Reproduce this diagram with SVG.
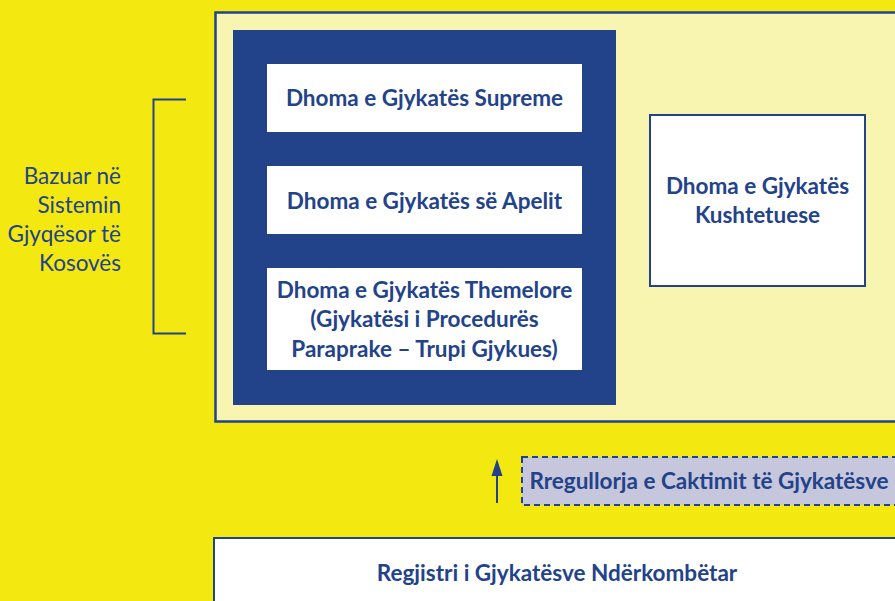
<svg xmlns="http://www.w3.org/2000/svg" width="895" height="601" viewBox="0 0 895 601">
<defs>
<style>
.t{font-family:Lato,"Open Sans","Liberation Sans",sans-serif;fill:#22438a;font-weight:bold;font-size:22.5px;text-anchor:middle}
.l{font-family:Lato,"Open Sans","Liberation Sans",sans-serif;fill:#22438a;font-size:22.5px;text-anchor:end}
.w{fill:#ffffff}
</style>
</defs>
<rect width="895" height="601" fill="#f3e80f"/>
<g id="outer">
<rect x="215.5" y="12.5" width="690" height="409" fill="#f7f5b0" stroke="#22438a" stroke-width="2.5"/>
</g>
<g id="group-inner">
<rect x="233" y="30" width="383" height="375" fill="#22438a"/>
</g>
<g id="supreme">
<rect class="w" x="267" y="64" width="315" height="68"/>
<text class="t" x="424.5" y="106">Dhoma e Gjykatës Supreme</text>
</g>
<g id="apelit">
<rect class="w" x="267" y="166" width="315" height="68"/>
<text class="t" x="424.5" y="209">Dhoma e Gjykatës së Apelit</text>
</g>
<g id="themelore">
<rect class="w" x="267" y="268" width="315" height="102"/>
<text class="t" x="424.5" y="298">Dhoma e Gjykatës Themelore</text>
<text class="t" x="424.5" y="327">(Gjykatësi i Procedurës</text>
<text class="t" x="424.5" y="357">Paraprake – Trupi Gjykues)</text>
</g>
<g id="kushtetuese">
<rect class="w" x="650" y="115" width="215" height="171" stroke="#22438a" stroke-width="2"/>
<text class="t" x="757.5" y="194">Dhoma e Gjykatës</text>
<text class="t" x="757.5" y="223">Kushtetuese</text>
</g>
<g id="bracket-label">
<path d="M186,99.5 H153.5 V333.5 H186" fill="none" stroke="#22438a" stroke-width="2"/>
<text class="l" x="121" y="184">Bazuar në</text>
<text class="l" x="121" y="213">Sistemin</text>
<text class="l" x="121" y="242">Gjyqësor të</text>
<text class="l" x="121" y="271">Kosovës</text>
</g>
<g id="rregullorja">
<rect x="522" y="457" width="390" height="48" fill="#c6c6dc" stroke="#22438a" stroke-width="2" stroke-dasharray="6,4"/>
<text class="t" x="709" y="489">Rregullorja e Caktimit të Gjykatësve</text>
</g>
<g id="regjistri">
<rect class="w" x="214" y="538" width="700" height="80" stroke="#22438a" stroke-width="2"/>
<text class="t" x="557" y="581">Regjistri i Gjykatësve Ndërkombëtar</text>
</g>
<g id="connectors">
<line x1="497" y1="503" x2="497" y2="472" stroke="#22438a" stroke-width="2"/>
<path d="M497,459 L502.5,476 L491.5,476 Z" fill="#22438a"/>
</g>
</svg>
